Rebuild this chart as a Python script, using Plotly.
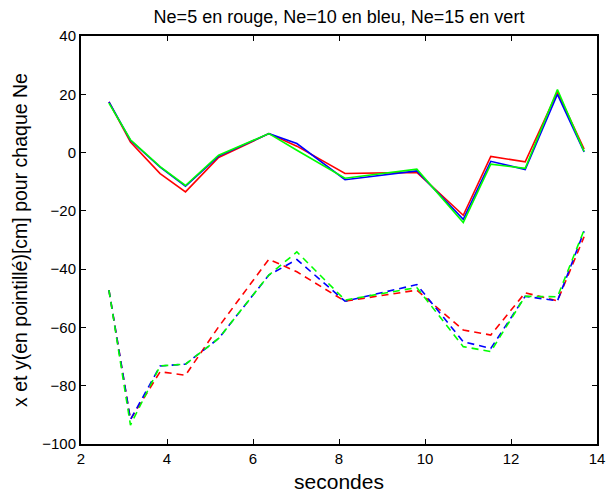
import plotly.graph_objects as go

t = [2.65, 3.15, 3.84, 4.43, 5.2, 6.37, 7.02, 8.14, 9.81, 10.89, 11.53, 12.33, 13.08, 13.70]

x_ne5 = [17.4, 3.6, -7.2, -13.5, -1.7, 6.5, 2.2, -7.2, -6.8, -21.5, -1.3, -3.2, 20.8, 1.2]
x_ne10 = [17.4, 4.2, -5.0, -11.5, -1.2, 6.5, 3.1, -9.3, -6.3, -22.9, -3.0, -5.8, 20.0, 0.2]
x_ne15 = [17.0, 4.4, -4.8, -11.3, -0.9, 6.5, 0.8, -8.8, -5.7, -24.0, -4.0, -5.4, 21.6, 0.4]

y_ne5 = [-47.2, -91.6, -75.2, -76.4, -59.8, -36.6, -40.9, -51.0, -47.2, -60.9, -62.6, -48.1, -50.9, -28.9]
y_ne10 = [-47.2, -91.6, -73.2, -72.6, -63.8, -42.0, -36.7, -51.0, -45.3, -64.9, -67.2, -49.3, -50.9, -27.0]
y_ne15 = [-47.2, -93.5, -73.2, -72.6, -63.8, -42.0, -34.1, -50.6, -46.3, -66.6, -68.3, -49.3, -49.5, -26.6]

x_ticks = [2, 4, 6, 8, 10, 12, 14]
y_ticks = [-100, -80, -60, -40, -20, 0, 20, 40]

colors = {"Ne=5": "#ff0000", "Ne=10": "#0000ff", "Ne=15": "#00ff00"}
FONT = "Liberation Sans, Arial, Helvetica, sans-serif"

fig = go.Figure()
for name, xs in [("Ne=5", x_ne5), ("Ne=10", x_ne10), ("Ne=15", x_ne15)]:
    fig.add_trace(go.Scatter(x=t, y=xs, mode="lines", name=name + " x",
                             line=dict(color=colors[name], width=1.6)))
for name, ys in [("Ne=5", y_ne5), ("Ne=10", y_ne10), ("Ne=15", y_ne15)]:
    fig.add_trace(go.Scatter(x=t, y=ys, mode="lines", name=name + " y",
                             line=dict(color=colors[name], width=1.6, dash="7px,5px")))

axis_common = dict(
    showgrid=False, zeroline=False, showline=True, linecolor="black", linewidth=2,
    mirror="allticks", ticks="inside", ticklen=5, tickwidth=1, tickcolor="black",
    tickfont=dict(family=FONT, size=15, color="black"), automargin=False,
)

fig.update_layout(
    width=607, height=494,
    margin=dict(l=81, r=10, t=36, b=50),
    paper_bgcolor="white", plot_bgcolor="white",
    showlegend=False,
    title=dict(text="Ne=5 en rouge, Ne=10 en bleu, Ne=15 en vert",
               x=(81 + 597) / 2 / 607, xanchor="center", y=1 - 17 / 494, yanchor="middle",
               font=dict(family=FONT, size=18, color="black")),
    xaxis=dict(range=[2, 14], tickvals=x_ticks,
               title=dict(text="secondes", standoff=8,
                          font=dict(family=FONT, size=21, color="black")),
               **axis_common),
    yaxis=dict(range=[-100, 40], tickvals=y_ticks,
               title=dict(text="x et y(en pointillé)[cm] pour chaque Ne", standoff=9,
                          font=dict(family=FONT, size=19.5, color="black")),
               **axis_common),
)

fig.write_html("out.html", config={"displayModeBar": False},
               post_script="document.body.style.margin='0';document.body.style.overflow='hidden';")
